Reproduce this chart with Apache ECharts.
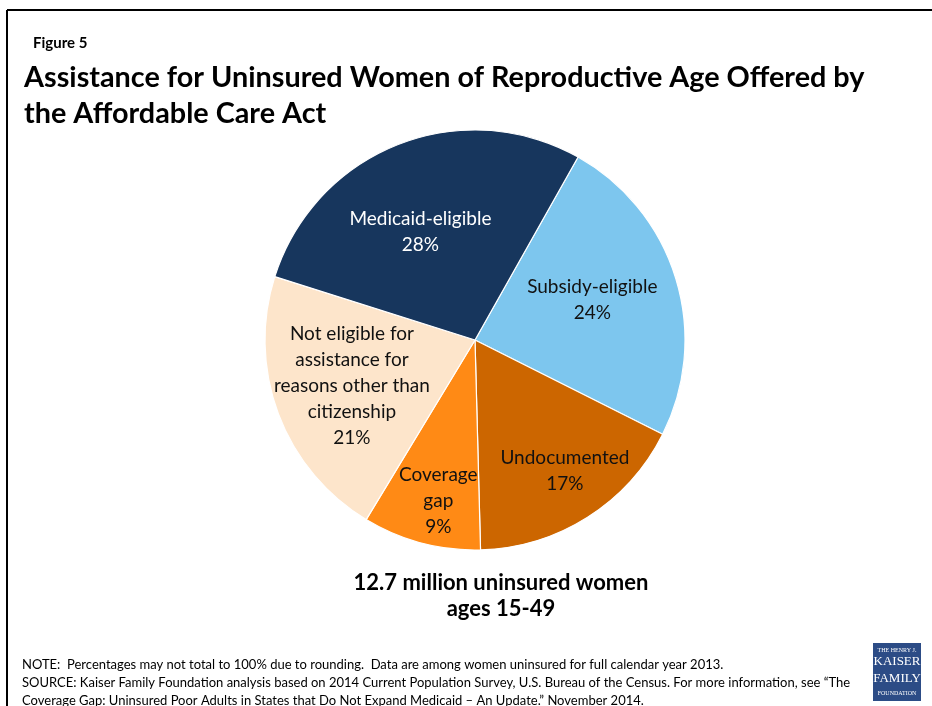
<!DOCTYPE html>
<html><head><meta charset="utf-8">
<script src="https://cdn.jsdelivr.net/npm/echarts@6/dist/echarts.min.js"></script>
<style>html,body{margin:0;padding:0;background:#fff}#c{width:932px;height:706px}</style>
</head><body><div id="c"></div>
<script>
const categories = ["Subsidy-eligible", "Undocumented", "Coverage\ngap", "Not eligible for\nassistance for\nreasons other than\ncitizenship", "Medicaid-eligible"];
const values = [24, 17, 9, 21, 28];
const colors = ["#7DC6EE", "#CC6600", "#FF8A15", "#FDE5CB", "#17365D"];
const labelColors = ["#111", "#111", "#111", "#111", "#fff"];
const labelShift = [[14, -9], [32, 40], [-9, 56], [-22, 8], [-15, -8]];

const chart = echarts.init(document.getElementById('c'));
const FONT = 'Lato';
chart.setOption({
  animation: false,
  textStyle: { fontFamily: FONT },
  title: [
    { text: 'Figure 5', left: 28, top: 31, textStyle: { fontFamily: FONT, fontSize: 15, fontWeight: 'bold', color: '#000' } },
    { text: 'Assistance for Uninsured Women of Reproductive Age Offered by\nthe Affordable Care Act', left: 19, top: 55,
      textStyle: { fontFamily: FONT, fontSize: 28.8, fontWeight: 'bold', color: '#000', lineHeight: 36 } },
    { text: '12.7 million uninsured women\nages 15-49', left: 496, textAlign: 'center', top: 565,
      textStyle: { fontFamily: FONT, fontSize: 22, fontWeight: 'bold', color: '#000', lineHeight: 26, align: 'center' } },
    { text: 'NOTE:  Percentages may not total to 100% due to rounding.  Data are among women uninsured for full calendar year 2013.\nSOURCE: Kaiser Family Foundation analysis based on 2014 Current Population Survey, U.S. Bureau of the Census. For more information, see \u201cThe\nCoverage Gap: Uninsured Poor Adults in States that Do Not Expand Medicaid \u2013 An Update.\u201d November 2014.',
      left: 17, top: 651, textStyle: { fontFamily: FONT, fontSize: 13, fontWeight: 'normal', color: '#000', lineHeight: 18 } }
  ],
  graphic: [
    { type: 'line', shape: { x1: 7, y1: 10, x2: 932, y2: 10 }, style: { stroke: '#000', lineWidth: 2 } },
    { type: 'line', shape: { x1: 7, y1: 10, x2: 7, y2: 706 }, style: { stroke: '#000', lineWidth: 2 } },
    { type: 'rect', shape: { x: 873, y: 643, width: 48, height: 58 }, style: { fill: '#2C4C86' } },
    { type: 'text', x: 897, y: 647, style: { text: 'THE HENRY J.', fill: '#fff', font: '6px "Liberation Serif"', align: 'center' } },
    { type: 'text', x: 897, y: 655, style: { text: 'KAISER', fill: '#fff', font: '13px "Liberation Serif"', align: 'center' } },
    { type: 'text', x: 897, y: 672, style: { text: 'FAMILY', fill: '#fff', font: '13px "Liberation Serif"', align: 'center' } },
    { type: 'text', x: 897, y: 690, style: { text: 'FOUNDATION', fill: '#fff', font: '6px "Liberation Serif"', align: 'center' } }
  ],
  series: [{
    type: 'pie',
    center: [475, 340],
    radius: [0, 210],
    startAngle: 60.6,
    clockwise: true,
    data: categories.map((c, i) => ({
      name: c, value: values[i],
      itemStyle: { color: colors[i] },
      label: { color: labelColors[i] }
    })),
    itemStyle: { borderColor: '#fff', borderWidth: 1.2 },
    label: {
      show: true, position: 'inside',
      formatter: p => p.name + '\n' + p.value + '%',
      fontFamily: FONT, fontSize: 19, lineHeight: 26, align: 'center'
    },
    labelLine: { show: false },
    labelLayout: p => ({ dx: labelShift[p.dataIndex][0], dy: labelShift[p.dataIndex][1] }),
    emphasis: { disabled: true }
  }]
});
</script></body></html>
